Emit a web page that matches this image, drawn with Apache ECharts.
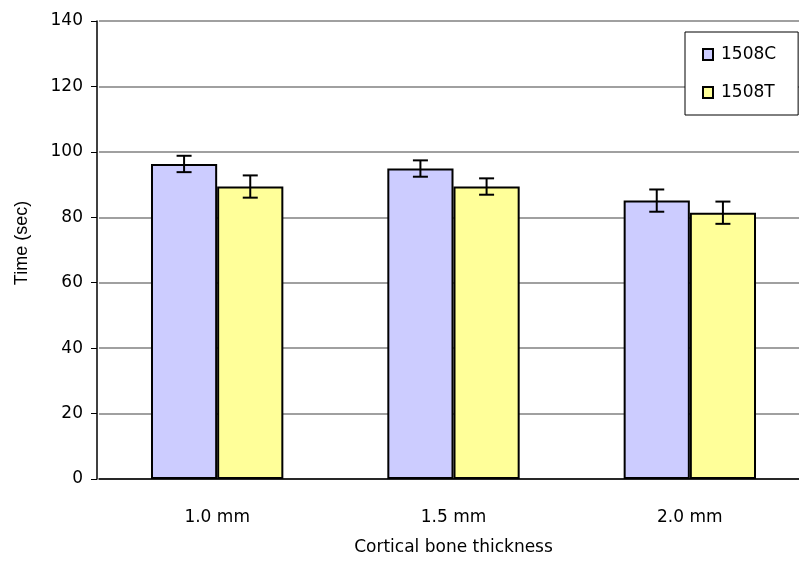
<!DOCTYPE html>
<html><head><meta charset="utf-8">
<script src="https://cdn.jsdelivr.net/npm/echarts@6/dist/echarts.min.js"></script>
<style>html,body{margin:0;padding:0;background:#fff}#c{width:799px;height:567px}</style>
</head><body><div id="c"></div>
<script>
const categories = ['1.0 mm', '1.5 mm', '2.0 mm'];
const series1508C = [96.3, 94.9, 85.1];
const err1508C = [2.5, 2.5, 3.4];
const series1508T = [89.4, 89.4, 81.4];
const err1508T = [3.4, 2.5, 3.4];
const yTicks = [0, 20, 40, 60, 80, 100, 120, 140];

const chart = echarts.init(document.getElementById('c'));
const wideFont = 'DejaVu Sans, Verdana, sans-serif';
const font = 'Liberation Sans, Arial, sans-serif';
const catGap = 0.44;

function errSeries(vals, errs, side) {
  return {
    type: 'custom',
    z: 10,
    data: vals.map((v, i) => [i, v, errs[i]]),
    renderItem: function (params, api) {
      const i = api.value(0), v = api.value(1), e = api.value(2);
      const band = api.size([1, 0])[0];
      const bw = band * (1 - catGap) / 2;
      const c = api.coord([i, v]);
      const x = c[0] + side * bw / 2;
      const yt = api.coord([i, v + e])[1];
      const yb = api.coord([i, v - e])[1];
      const hw = 7.5;
      const st = { stroke: '#000', lineWidth: 2 };
      return { type: 'group', children: [
        { type: 'line', shape: { x1: x, y1: yt, x2: x, y2: yb }, style: st },
        { type: 'line', shape: { x1: x - hw, y1: yt, x2: x + hw, y2: yt }, style: st },
        { type: 'line', shape: { x1: x - hw, y1: yb, x2: x + hw, y2: yb }, style: st }
      ]};
    },
    silent: true
  };
}

chart.setOption({
  animation: false,
  backgroundColor: '#fff',
  textStyle: { fontFamily: wideFont },
  grid: { left: 99, top: 21, width: 709, height: 458, containLabel: false, outerBoundsMode: 'none' },
  legend: {
    orient: 'vertical',
    left: 685, top: 32,
    padding: [14, 22, 14, 17],
    itemGap: 21,
    itemWidth: 10, itemHeight: 11,
    icon: 'rect',
    borderColor: '#000', borderWidth: 1, backgroundColor: '#fff',
    textStyle: { fontFamily: wideFont, fontSize: 17, color: '#000', padding: [0, 0, 0, 3] },
    data: ['1508C', '1508T']
  },
  xAxis: {
    type: 'category',
    data: categories,
    name: 'Cortical bone thickness',
    nameLocation: 'middle',
    nameGap: 60,
    nameTextStyle: { fontFamily: wideFont, fontSize: 17, color: '#000' },
    axisLine: { lineStyle: { color: '#000', width: 1.5 } },
    axisTick: { show: false },
    axisLabel: { fontFamily: wideFont, fontSize: 17, color: '#000', margin: 30 },
    splitLine: { show: false }
  },
  yAxis: {
    type: 'value',
    offset: 2,
    min: yTicks[0], max: yTicks[yTicks.length - 1], interval: 20,
    name: 'Time (sec)',
    nameLocation: 'middle',
    nameGap: 66,
    nameTextStyle: { fontFamily: font, fontSize: 18, color: '#000', padding: [0, 0, 0, 14] },
    axisLine: { show: true, lineStyle: { color: '#000', width: 1.5 } },
    axisTick: { show: true, length: 6, inside: false, lineStyle: { color: '#000' } },
    axisLabel: { fontFamily: wideFont, fontSize: 17, color: '#000', margin: 14 },
    splitLine: { show: true, lineStyle: { color: '#808080', width: 1.5 } }
  },
  series: [
    { name: '1508C', type: 'bar', data: series1508C, barGap: '0%', barCategoryGap: (catGap * 100) + '%',
      itemStyle: { color: '#CCCCFF', borderColor: '#000', borderWidth: 2 } },
    { name: '1508T', type: 'bar', data: series1508T, barGap: '0%', barCategoryGap: (catGap * 100) + '%',
      itemStyle: { color: '#FFFF99', borderColor: '#000', borderWidth: 2 } },
    errSeries(series1508C, err1508C, -1),
    errSeries(series1508T, err1508T, 1)
  ]
});
</script></body></html>
